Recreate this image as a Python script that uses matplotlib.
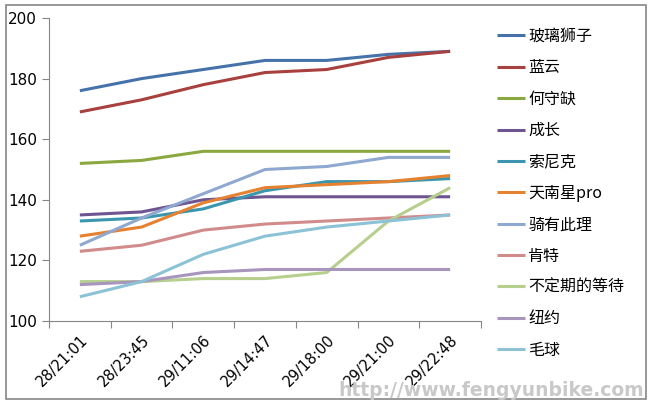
import matplotlib.pyplot as plt
from matplotlib.patches import Rectangle

plt.rcParams['font.family'] = ['Noto Sans CJK SC', 'DejaVu Sans']

times = ['28/21:01', '28/23:45', '29/11:06', '29/14:47', '29/18:00', '29/21:00', '29/22:48']

names = ['玻璃狮子', '蓝云', '何守缺', '成长', '索尼克', '天南星pro', '骑有此理',
         '肯特', '不定期的等待', '纽约', '毛球']

boli = [176, 180, 183, 186, 186, 188, 189]
lanyun = [169, 173, 178, 182, 183, 187, 189]
heshouque = [152, 153, 156, 156, 156, 156, 156]
chengzhang = [135, 136, 140, 141, 141, 141, 141]
suonike = [133, 134, 137, 143, 146, 146, 147]
tiannanxing = [128, 131, 139, 144, 145, 146, 148]
qiyouci = [125, 134, 142, 150, 151, 154, 154]
kente = [123, 125, 130, 132, 133, 134, 135]
budingqi = [113, 113, 114, 114, 116, 133, 144]
niuyue = [112, 113, 116, 117, 117, 117, 117]
maoqiu = [108, 113, 122, 128, 131, 133, 135]

series = [boli, lanyun, heshouque, chengzhang, suonike, tiannanxing, qiyouci,
          kente, budingqi, niuyue, maoqiu]

colors = ['#4672AA', '#A8403E', '#8AA83F', '#6E5490', '#3996AE', '#E5812F',
          '#8EA8D0', '#D08B8A', '#B6CF8D', '#A895BD', '#8CC2D6']

fig = plt.figure(figsize=(6.52, 4.05), dpi=100)
fig.patch.set_facecolor('white')

# chart frame
fig.patches.append(Rectangle((6 / 652, 1 - 399 / 405), 640 / 652, 394 / 405,
                             transform=fig.transFigure, fill=False,
                             edgecolor='#868686', lw=1.2))

ax = fig.add_axes([49 / 652, 1 - 321 / 405, 432 / 652, 303 / 405])
x = list(range(len(times)))
for name, vals, c in zip(names, series, colors):
    ax.plot(x, vals, color=c, lw=2.2, label=name, solid_capstyle='butt')

ax.set_xlim(-0.5, len(times) - 0.5)
ax.set_ylim(100, 200)
ax.set_yticks([100, 120, 140, 160, 180, 200])
ax.set_xticks([i - 0.5 for i in range(len(times) + 1)])
ax.set_xticklabels([])
ax.set_xticks(x, minor=True)
ax.set_xticklabels(times, minor=True, rotation=45, ha='right', va='top',
                   rotation_mode='anchor', fontsize=10.5, family='DejaVu Sans')
ax.tick_params(axis='x', which='major', length=5, color='#868686', direction='out')
ax.tick_params(axis='x', which='minor', length=0, pad=8)
ax.tick_params(axis='y', length=5, color='#868686', direction='out',
               labelsize=11)
for lbl in ax.get_yticklabels():
    lbl.set_family('DejaVu Sans')
for s in ['top', 'right']:
    ax.spines[s].set_visible(False)
for s in ['left', 'bottom']:
    ax.spines[s].set_color('#868686')

ax.legend(loc='upper left', bbox_to_anchor=(497 / 652, 1 - 28 / 405),
          bbox_transform=fig.transFigure, frameon=False, fontsize=11.5,
          handlelength=1.75, handletextpad=0.2, labelspacing=0.9,
          borderaxespad=0, borderpad=0)

fig.text(644 / 652, 1 - 396 / 405, 'http://www.fengyunbike.com', ha='right',
         va='baseline', fontsize=13.5, fontweight='bold', color='#c8c8c8',
         family=['DejaVu Sans'])

fig.savefig('out.png', dpi=100)
